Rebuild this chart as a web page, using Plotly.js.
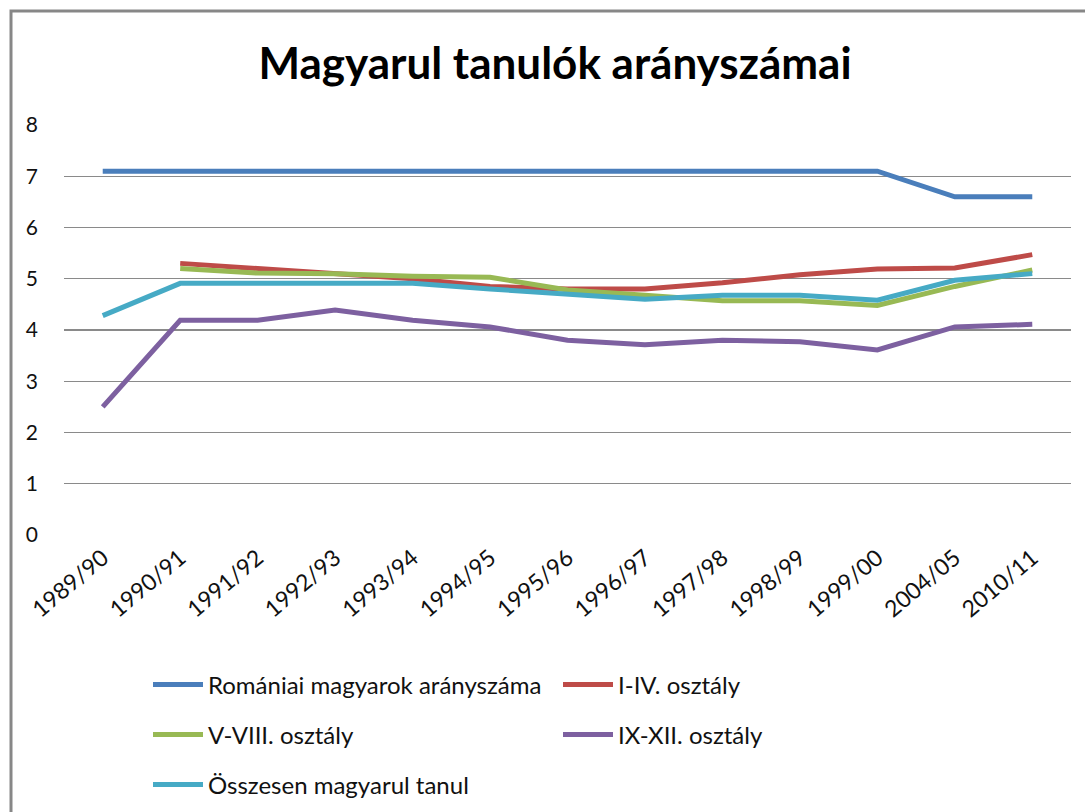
<!DOCTYPE html>
<html>
<head>
<meta charset="utf-8">
<script src="https://cdn.plot.ly/plotly-3.0.1.min.js"></script>
<style>
html,body{margin:0;padding:0;background:#fff;}
#chart{width:1085px;height:812px;}
</style>
</head>
<body>
<div id="chart"></div>
<script>
var categories = ["1989/90","1990/91","1991/92","1992/93","1993/94","1994/95","1995/96","1996/97","1997/98","1998/99","1999/00","2004/05","2010/11"];
var romaniaiMagyarok = [7.1,7.1,7.1,7.1,7.1,7.1,7.1,7.1,7.1,7.1,7.1,6.6,6.6];
var osztaly1_4 = [null,5.3,5.2,5.1,5.0,4.85,4.8,4.8,4.92,5.08,5.19,5.21,5.47];
var osztaly5_8 = [null,5.2,5.11,5.1,5.05,5.03,4.78,4.68,4.57,4.57,4.48,4.85,5.17];
var osztaly9_12 = [2.5,4.19,4.19,4.39,4.19,4.06,3.8,3.71,3.8,3.77,3.61,4.06,4.11];
var osszesen = [4.28,4.91,4.91,4.91,4.91,4.8,4.7,4.6,4.68,4.68,4.58,4.97,5.1];
var seriesNames = ["Romániai magyarok arányszáma","I-IV. osztály","V-VIII. osztály","IX-XII. osztály","Összesen magyarul tanul"];
var titleText = "Magyarul tanulók arányszámai";

var colors = ["#4A7EBB","#BE4B48","#98B954","#7D60A0","#46AAC5"];
var seriesData = [romaniaiMagyarok, osztaly1_4, osztaly5_8, osztaly9_12, osszesen];
var legendIds = ["legend","legend","legend2","legend2","legend3"];

var traces = seriesData.map(function(vals, i){
  return {
    type: "scatter",
    mode: "lines",
    x: categories,
    y: vals,
    name: seriesNames[i],
    legend: legendIds[i],
    connectgaps: false,
    line: {color: colors[i], width: 5}
  };
});

var legendFont = {family: "Lato, 'DejaVu Sans', sans-serif", size: 24, color: "#111"};
function mkLegend(yPix){
  return {
    orientation: "h",
    xref: "container", yref: "container",
    x: 148/1085, xanchor: "left",
    y: 1 - yPix/812, yanchor: "middle",
    entrywidth: 345, entrywidthmode: "pixels",
    font: legendFont,
    bgcolor: "rgba(0,0,0,0)",
    itemwidth: 50
  };
}

var layout = {
  width: 1085, height: 812,
  margin: {l: 64, r: 14, t: 125, b: 277},
  paper_bgcolor: "#fff",
  plot_bgcolor: "#fff",
  showlegend: true,
  title: {
    text: titleText,
    font: {family: "Lato, 'DejaVu Sans', sans-serif", size: 44, color: "#000", weight: "bold"},
    xref: "container", x: 555/1085, xanchor: "center",
    yref: "container", y: 1 - 64/812, yanchor: "middle"
  },
  xaxis: {
    type: "category",
    range: [-0.5, 12.5],
    showgrid: false,
    zeroline: false,
    showline: false,
    ticks: "",
    tickangle: -40,
    ticklabelstandoff: 4,
    tickfont: {family: "Lato, 'DejaVu Sans', sans-serif", size: 23, color: "#111"},
    fixedrange: true
  },
  yaxis: {
    range: [0, 8],
    dtick: 1,
    showgrid: true,
    gridcolor: "#8a8a8a",
    gridwidth: 1.3,
    zeroline: false,
    showline: false,
    ticks: "",
    ticklabelstandoff: 25,
    tickfont: {family: "Lato, 'DejaVu Sans', sans-serif", size: 21, color: "#111"},
    fixedrange: true
  },
  legend: mkLegend(685),
  legend2: mkLegend(735),
  legend3: mkLegend(785),
  shapes: [{
    type: "rect",
    xref: "paper", yref: "paper",
    x0: (11 - 64)/1007, x1: 1.2,
    y0: -1.0, y1: 1 + (125 - 11)/410,
    line: {color: "#878787", width: 3},
    fillcolor: "rgba(0,0,0,0)",
    layer: "below"
  }]
};

Plotly.newPlot("chart", traces, layout, {displayModeBar: false, staticPlot: true});
</script>
</body>
</html>
